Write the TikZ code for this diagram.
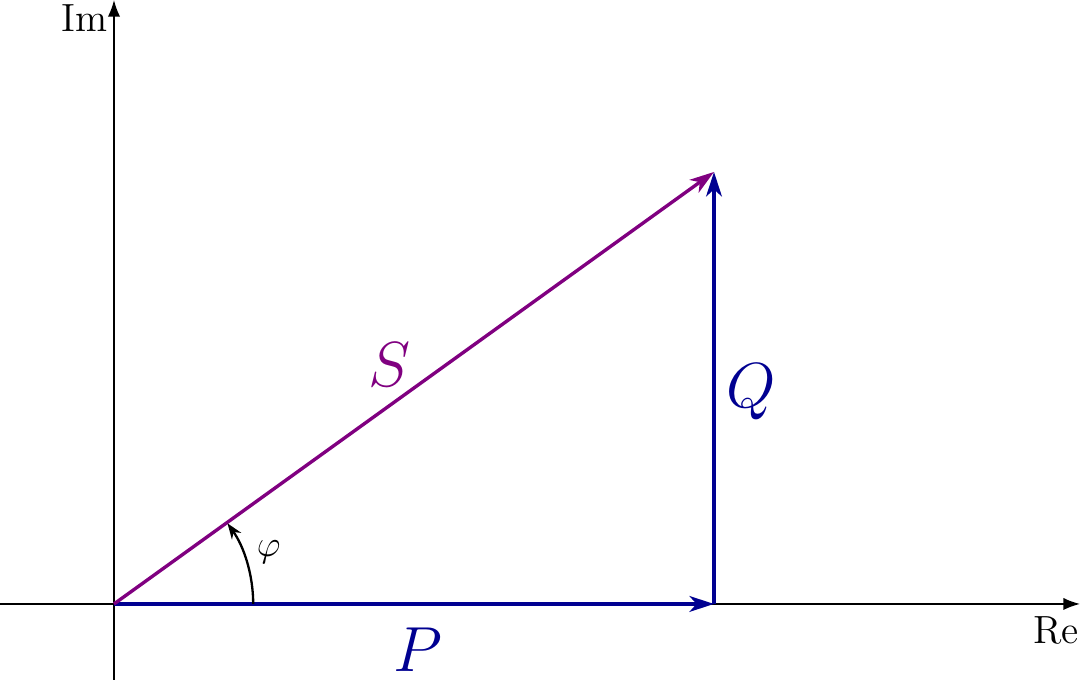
\documentclass[tikz,border=0pt]{standalone}
\usepackage{amsmath, amssymb}
\usetikzlibrary{arrows.meta, positioning, calc}
\definecolor{SPurple}{RGB}{128, 0, 128}
\definecolor{PQBlue}{RGB}{0, 0, 145}

\begin{document}
\begin{tikzpicture}[
            x=1.373cm, y=1.373cm,
            axis/.style={-{Latex[length=1.9mm, width=1.4mm]}, line width=0.5pt, black},
            vec/.style={-{Stealth[length=2.8mm, width=1.8mm, inset=0.8mm]}, line width=1.1pt},
            big/.style={font=\huge, inner sep=1pt},
            small/.style={font=\fontsize{12.8}{15}\selectfont, inner sep=0pt}
        ]
            \useasboundingbox (-0.95,-0.633) rectangle (8.05,5.033);

            % axes
            \coordinate (xl) at (-0.95,0);
            \coordinate (xr) at (8.05,0);
            \coordinate (yb) at (0,-0.633);
            \coordinate (yt) at (0,5.033);
            \draw[axis] (xl) -- (xr);
            \draw[axis] (yb) -- (yt);
            \node[small, anchor=north east] (re) at (8.045,-0.1) {Re};
            \node[small, anchor=east] (im) at (-0.05,4.885) {Im};

            % power triangle
            \coordinate (O) at (0,0);
            \coordinate (Pe) at (5,0);
            \coordinate (Se) at (5,3.6);
            \draw[vec, PQBlue] (O) -- (Pe);
            \draw[vec, PQBlue] (Pe) -- (Se);
            \draw[vec, SPurple] (O) -- (Se);

            \node[big, PQBlue] (plbl) at (2.53,-0.38) {$P$};
            \node[big, PQBlue] (qlbl) at (5.31,1.77) {$Q$};
            \node[big, SPurple] (slbl) at (2.3,1.99) {$S$};

            % angle
            \coordinate (a0) at (1.16,0);
            \draw[-{Stealth[length=1.8mm, width=1.3mm]}, line width=0.75pt] (a0) arc[start angle=0, end angle=35.4, radius=1.16];
            \node[small] (phi) at (18.5:1.36) {$\varphi$};
        \end{tikzpicture}
\end{document}
